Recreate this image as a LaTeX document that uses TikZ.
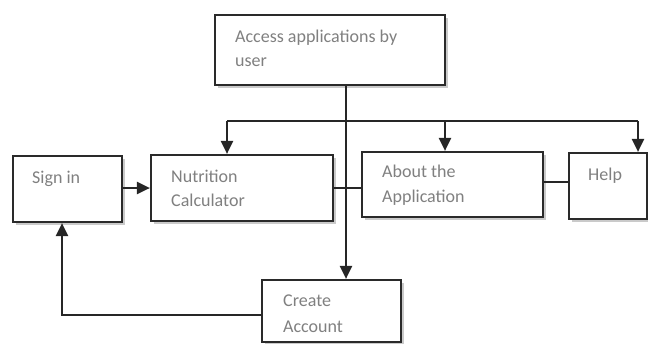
\documentclass[tikz,border=0pt]{standalone}
\usepackage{fontspec}
\setmainfont{Carlito}
\usetikzlibrary{arrows.meta,shadows}
\definecolor{txtgray}{HTML}{808080}
\definecolor{boxline}{HTML}{2A2A2A}
\tikzset{
  box/.style={draw=boxline, line width=2.2pt, fill=white, rectangle, inner sep=0pt,
    drop shadow={shadow xshift=2.5pt, shadow yshift=-3pt, opacity=0.35, fill=black!60}},
  lbl/.style={anchor=base west, inner sep=0pt, text=txtgray, font=\fontsize{18pt}{24pt}\selectfont},
  conn/.style={draw=black!85, line width=2.2pt},
  arr/.style={conn, -{Triangle[length=13pt,width=12pt]}}
}
\begin{document}
\begin{tikzpicture}[x=1pt,y=-1pt]
\useasboundingbox (0,0) rectangle (648,343);
% boxes
\node[box, minimum width=230pt, minimum height=70pt] (access) at (330,50) {};
\node[box, minimum width=109pt, minimum height=66pt] (signin) at (67.5,189) {};
\node[box, minimum width=182pt, minimum height=66pt] (nutr) at (242,188) {};
\node[box, minimum width=181pt, minimum height=65pt] (about) at (452.5,184.5) {};
\node[box, minimum width=78pt, minimum height=66pt] (help) at (608,186) {};
\node[box, minimum width=139pt, minimum height=62pt] (create) at (331.5,311) {};
% texts
\node[lbl] (access-t1) at (235,42) {Access applications by};
\node[lbl] (access-t2) at (235,66) {user};
\node[lbl] (signin-t) at (32,183) {Sign in};
\node[lbl] (nutr-t1) at (171,182) {Nutrition};
\node[lbl] (nutr-t2) at (171,206) {Calculator};
\node[lbl] (about-t1) at (382,177) {About the};
\node[lbl] (about-t2) at (382,202) {Application};
\node[lbl] (help-t) at (588,180) {Help};
\node[lbl] (create-t1) at (283,306) {Create};
\node[lbl] (create-t2) at (283,332) {Account};
% helper coordinates
\coordinate (spine) at (346,0);
\coordinate (nA) at (227,121);
\coordinate (aA) at (445,121);
\coordinate (hA) at (638,121);
\coordinate (upX) at (62,315);
% connectors
\draw[arr] (spine |- access.south) -- (spine |- create.north);
\draw[conn] (nA) -- (hA);
\draw[arr] (nA) -- (nA |- nutr.north);
\draw[arr] (aA) -- (aA |- about.north);
\draw[arr] (hA) -- (hA |- help.north);
\draw[arr] (signin.east |- nutr.west) -- (nutr.west);
\draw[conn] (nutr.east) -- (nutr.east -| about.west);
\draw[conn] (about.east |- 0,182) -- (help.west |- 0,182);
\draw[arr] (create.west |- upX) -- (upX) -- (upX |- signin.south);
\end{tikzpicture}
\end{document}
